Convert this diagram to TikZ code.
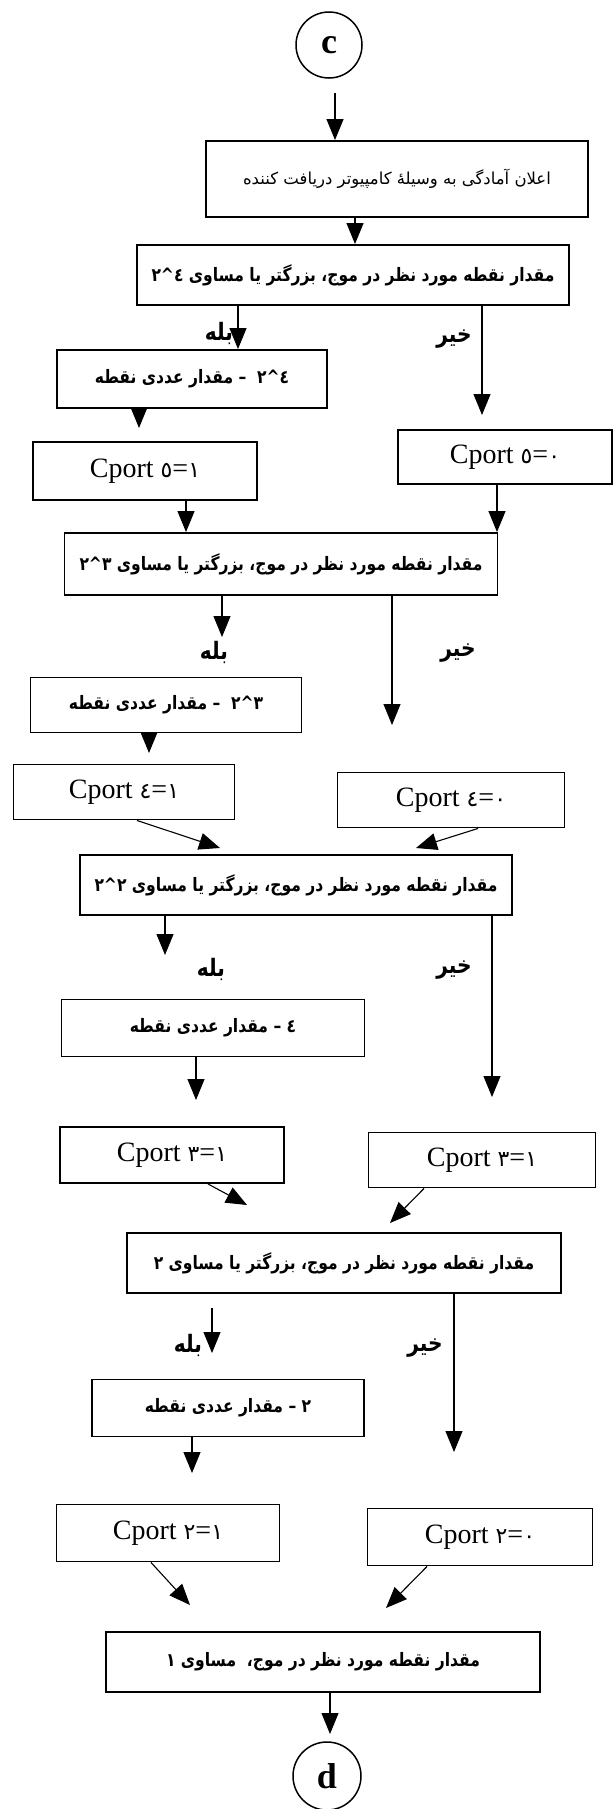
\documentclass[tikz,border=0pt]{standalone}
\usepackage{fontspec}
\setmainfont{Liberation Serif}
\newfontfamily\arabicfont[Script=Arabic]{DejaVu Sans}
\newfontfamily\farsifont[Script=Arabic,FakeStretch=0.84]{DejaVu Sans}
\TeXXeTstate=1
\usetikzlibrary{arrows.meta}

\newcommand\powr[2]{\beginL#1\kern0pt\textasciicircum\kern0pt#2\endL}
\newcommand\adig[1]{{\arabicfont\fontsize{22bp}{24bp}\selectfont #1}}

\tikzset{
  box/.style={draw, line width=1.9bp, inner sep=0pt},
  farsi/.style={font=\farsifont\bfseries\fontsize{18.5bp}{20bp}\selectfont},
  farsilight/.style={font=\arabicfont\fontsize{16.5bp}{18bp}\selectfont},
  cport/.style={font=\fontsize{28bp}{30bp}\selectfont},
  lbl/.style={font=\farsifont\bfseries\fontsize{24bp}{26bp}\selectfont, inner sep=0pt},
  conn/.style={circle, draw, line width=1.5bp, minimum size=66bp, inner sep=0pt,
    font=\bfseries\fontsize{36bp}{38bp}\selectfont},
  arr/.style={-{Triangle[width=17bp,length=21bp]}, line width=1.1bp}
}

\begin{document}
\begin{tikzpicture}[x=1bp,y=-1bp]
        \useasboundingbox (0,0) rectangle (615,1809);

        \node[conn] (c) at (329,45) {c};
        \node[box, farsilight, minimum width=382bp, minimum height=76bp] (ready) at (397,179)
                {\beginR اعلان آمادگی به وسیلهٔ کامپیوتر دریافت کننده\endR};

        \node[box, farsi, minimum width=432bp, minimum height=60bp] (cmpA) at (353,275)
                {\beginR مقدار نقطه مورد نظر در موج، بزرگتر یا مساوی \powr{٢}{٤}\endR};
        \node[box, farsi, minimum width=270bp, minimum height=58bp] (subA) at (192,379)
                {\beginR \powr{٢}{٤} \ – مقدار عددی نقطه\endR};
        \node[box, cport, minimum width=224bp, minimum height=58bp] (cpA1) at (145,471) {Cport \adig{٥}=\adig{١}};
        \node[box, cport, minimum width=214bp, minimum height=54bp] (cpA0) at (505,457) {Cport \adig{٥}=\adig{٠}};

        \node[box, farsi, minimum width=433bp, minimum height=62bp] (cmpB) at (281,564)
                {\beginR مقدار نقطه مورد نظر در موج، بزرگتر یا مساوی \powr{٢}{٣}\endR};
        \node[box, farsi, minimum width=271bp, minimum height=55bp] (subB) at (166,705)
                {\beginR \powr{٢}{٣} \ – مقدار عددی نقطه\endR};
        \node[box, cport, minimum width=221bp, minimum height=55bp] (cpB1) at (124,792) {Cport \adig{٤}=\adig{١}};
        \node[box, cport, minimum width=227bp, minimum height=55bp] (cpB0) at (451,800) {Cport \adig{٤}=\adig{٠}};

        \node[box, farsi, minimum width=432bp, minimum height=60bp] (cmpC) at (296,885)
                {\beginR مقدار نقطه مورد نظر در موج، بزرگتر یا مساوی \powr{٢}{٢}\endR};
        \node[box, farsi, minimum width=303bp, minimum height=57bp] (subC) at (213,1028)
                {\beginR ٤ – مقدار عددی نقطه\endR};
        \node[box, cport, minimum width=224bp, minimum height=56bp] (cpC1) at (172,1155) {Cport \adig{٣}=\adig{١}};
        \node[box, cport, minimum width=227bp, minimum height=55bp] (cpC0) at (482,1160) {Cport \adig{٣}=\adig{١}};

        \node[box, farsi, minimum width=434bp, minimum height=60bp] (cmpD) at (344,1263)
                {\beginR مقدار نقطه مورد نظر در موج، بزرگتر یا مساوی ٢\endR};
        \node[box, farsi, minimum width=272bp, minimum height=57bp] (subD) at (228,1408)
                {\beginR ٢ – مقدار عددی نقطه\endR};
        \node[box, cport, minimum width=223bp, minimum height=57bp] (cpD1) at (168,1533) {Cport \adig{٢}=\adig{١}};
        \node[box, cport, minimum width=225bp, minimum height=57bp] (cpD0) at (480,1537) {Cport \adig{٢}=\adig{٠}};

        \node[box, farsi, minimum width=434bp, minimum height=60bp] (cmpE) at (323,1662)
                {\beginR مقدار نقطه مورد نظر در موج، \ مساوی ١\endR};
        \node[conn, minimum size=68bp] (d) at (327,1776) {d};

        \node[lbl] (yesA) at (219,333) {بله};
        \node[lbl] (noA) at (454,339) {خیر};
        \node[lbl] (yesB) at (214,652) {بله};
        \node[lbl] (noB) at (458,653) {خیر};
        \node[lbl] (yesC) at (211,969) {بله};
        \node[lbl] (noC) at (454,970) {خیر};
        \node[lbl] (yesD) at (188,1345) {بله};
        \node[lbl] (noD) at (425,1348) {خیر};

        \coordinate (cout) at (335,93);
        \coordinate (tA) at (355,230);
        \coordinate (yA) at (238,340);
        \coordinate (nA) at (482,415);
        \coordinate (sA) at (139,428);
        \coordinate (pA1) at (186,520);
        \coordinate (pA0) at (497,520);
        \coordinate (yB) at (222,637);
        \coordinate (nB) at (392,725);
        \coordinate (sB) at (149,753);
        \coordinate (pB1) at (220,848);
        \coordinate (pB0) at (416,848);
        \coordinate (yC) at (165,955);
        \coordinate (nC) at (492,1097);
        \coordinate (sC) at (196,1100);
        \coordinate (pC1) at (247,1205);
        \coordinate (pC0) at (390,1223);
        \coordinate (yD0) at (212,1308);
        \coordinate (yD) at (212,1353);
        \coordinate (nD) at (454,1452);
        \coordinate (sD) at (192,1473);
        \coordinate (pD1) at (190,1605);
        \coordinate (pD0) at (386,1608);
        \coordinate (eE) at (330,1734);

        \draw[arr] (cout) -- (ready.north -| cout);
        \draw[arr] (ready.south -| tA) -- (cmpA.north -| tA);
        \draw[arr] (cmpA.south -| yA) -- (subA.north -| yA);
        \draw[arr] (cmpA.south -| nA) -- (nA);
        \draw[arr] (subA.south -| sA) -- (sA);
        \draw[arr] (cpA1.south -| pA1) -- (cmpB.north -| pA1);
        \draw[arr] (cpA0.south -| pA0) -- (cmpB.north -| pA0);
        \draw[arr] (cmpB.south -| yB) -- (yB);
        \draw[arr] (cmpB.south -| nB) -- (nB);
        \draw[arr] (subB.south -| sB) -- (sB);
        \draw[arr] ([xshift=13bp]cpB1.south) -- (pB1);
        \draw[arr] ([xshift=27bp]cpB0.south) -- (pB0);
        \draw[arr] (cmpC.south -| yC) -- (yC);
        \draw[arr] (cmpC.south -| nC) -- (nC);
        \draw[arr] (subC.south -| sC) -- (sC);
        \draw[arr] ([xshift=36bp]cpC1.south) -- (pC1);
        \draw[arr] ([xshift=-58bp]cpC0.south) -- (pC0);
        \draw[arr] (yD0) -- (yD);
        \draw[arr] (cmpD.south -| nD) -- (nD);
        \draw[arr] (subD.south -| sD) -- (sD);
        \draw[arr] ([xshift=-17bp]cpD1.south) -- (pD1);
        \draw[arr] ([xshift=-53bp]cpD0.south) -- (pD0);
        \draw[arr] (cmpE.south -| eE) -- (eE);
\end{tikzpicture}
\end{document}
